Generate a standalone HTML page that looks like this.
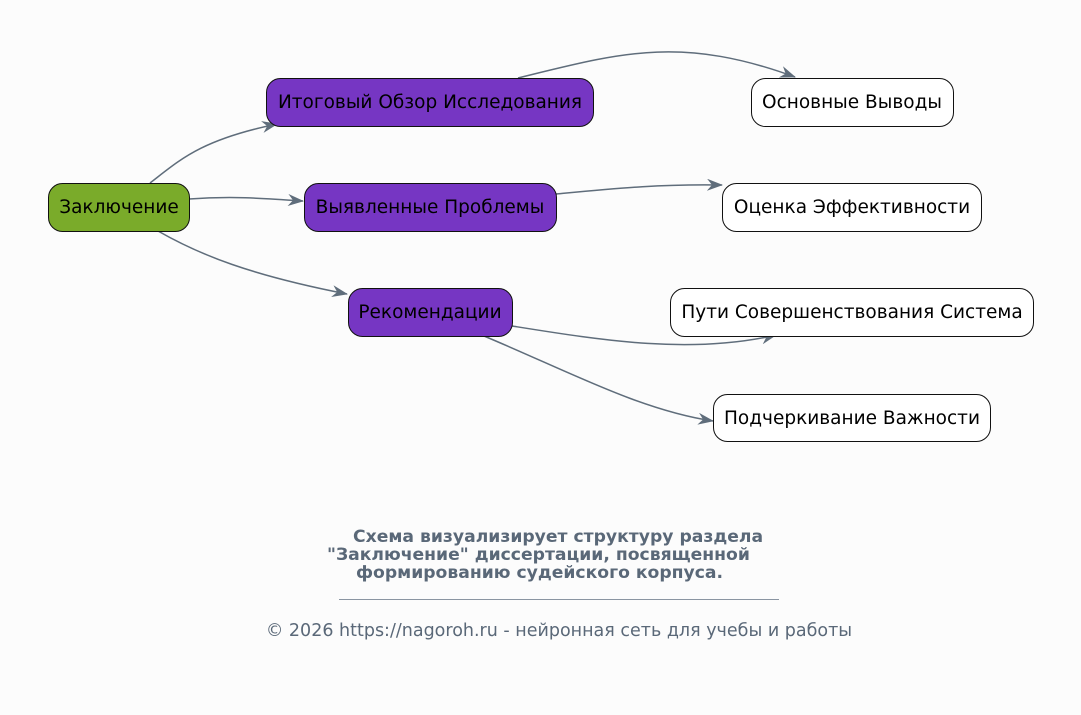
<!DOCTYPE html>
<html><head><meta charset="utf-8"><style>
html,body{margin:0;padding:0;background:#fcfcfc;}
svg{display:block;font-family:"DejaVu Sans","Liberation Sans",sans-serif;}
</style></head><body>
<svg width="1081" height="715" viewBox="0 0 1081 715" xmlns="http://www.w3.org/2000/svg">
<defs>
<marker id="a" viewBox="0 0 16 12" refX="15" refY="6" markerWidth="16" markerHeight="12" markerUnits="userSpaceOnUse" orient="auto">
<path d="M0,0 L16,6 L0,12 L5,6 z" fill="#5f6d7b"/>
</marker>
</defs>
<rect width="1081" height="715" fill="#fcfcfc"/>
<g fill="none" stroke="#5f6d7b" stroke-width="1.5" marker-end="url(#a)">
<path d="M150,183 C180,160 200,140 277,124"/>
<path d="M189,199 C230,196 260,198 303,201"/>
<path d="M158,231 C200,255 250,275 347,294"/>
<path d="M518,78 C620,53 680,35 795,77"/>
<path d="M556,194 C620,188 660,184 722,185"/>
<path d="M512,326 C600,340 690,355 776,335"/>
<path d="M484,336 C570,372 640,410 713,421"/>
</g>
<g stroke="#111" stroke-width="1">
<rect x="48.5" y="183.5" width="141" height="48" rx="14" fill="#7aab2a"/>
<rect x="266.5" y="78.5" width="327" height="48" rx="14" fill="#7636c3"/>
<rect x="304.5" y="183.5" width="252" height="48" rx="14" fill="#7636c3"/>
<rect x="348.5" y="288.5" width="164" height="48" rx="14" fill="#7636c3"/>
<rect x="751.5" y="78.5" width="202" height="48" rx="14" fill="#fff"/>
<rect x="722.5" y="183.5" width="259" height="48" rx="14" fill="#fff"/>
<rect x="670.5" y="288.5" width="363" height="48" rx="14" fill="#fff"/>
<rect x="713.5" y="394.5" width="277" height="47" rx="14" fill="#fff"/>
</g>
<g font-size="18.5" fill="#000" text-anchor="middle">
<text x="119" y="213">Заключение</text>
<text x="430" y="108">Итоговый Обзор Исследования</text>
<text x="430" y="213">Выявленные Проблемы</text>
<text x="430" y="318">Рекомендации</text>
<text x="852" y="108">Основные Выводы</text>
<text x="852" y="213">Оценка Эффективности</text>
<text x="852" y="318">Пути Совершенствования Система</text>
<text x="852" y="424">Подчеркивание Важности</text>
</g>
<g font-size="17.2" font-weight="bold" fill="#5a6878">
<text x="353" y="542">Схема визуализирует структуру раздела</text>
<text x="327" y="560">"Заключение" диссертации, посвященной</text>
<text x="356" y="578">формированию судейского корпуса.</text>
</g>
<line x1="339" y1="599.5" x2="779" y2="599.5" stroke="#8a95a2" stroke-width="1"/>
<text x="559" y="636" font-size="17.5" fill="#5a6878" text-anchor="middle">© 2026 https://nagoroh.ru - нейронная сеть для учебы и работы</text>
</svg>
</body></html>
